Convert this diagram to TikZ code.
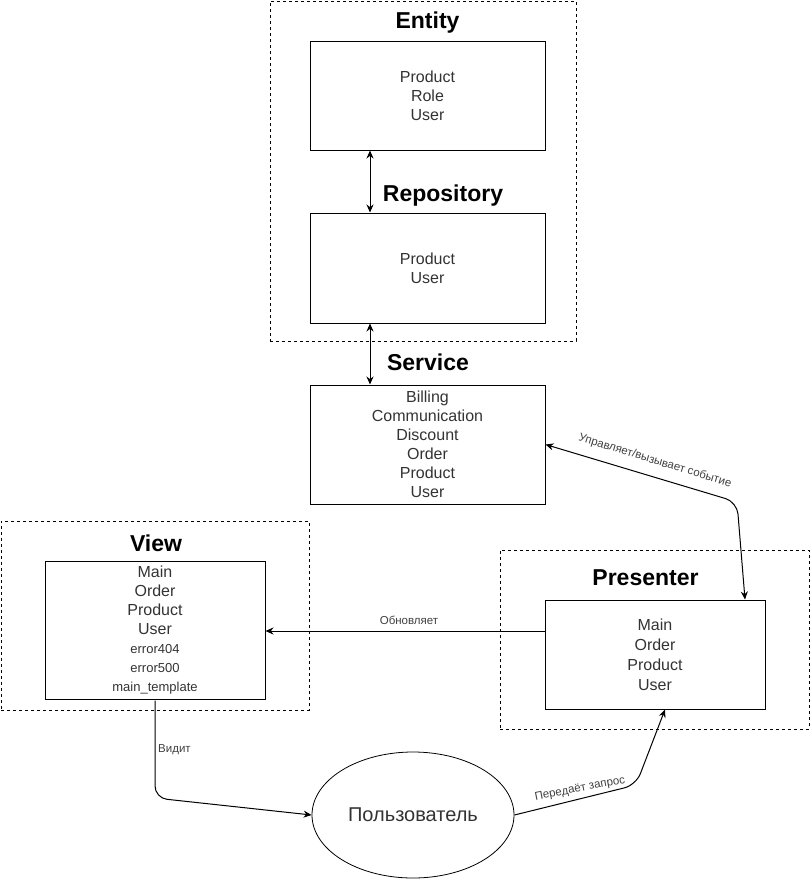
\documentclass[tikz,border=0pt]{standalone}
\usepackage{fontspec}
\setmainfont{Liberation Sans}
\usepackage{tikz}
\usetikzlibrary{arrows.meta,shapes.geometric}

\tikzset{
  layer/.style={draw, line width=1pt, align=center, text=black!80,
    font=\fontsize{16}{19}\selectfont},
  frame/.style={draw, line width=0.8pt, dash pattern=on 3pt off 3pt},
  title/.style={font=\fontsize{23}{26}\selectfont\bfseries},
  conn/.style={line width=1pt, -{Stealth[length=8pt,width=7pt]}, rounded corners=12pt},
  biconn/.style={line width=1pt, {Stealth[length=8pt,width=7pt]}-{Stealth[length=8pt,width=7pt]}},
  lbl/.style={font=\fontsize{11.5}{13}\selectfont, text=black!75, inner sep=1pt},
  small/.style={font=\fontsize{13}{19}\selectfont}
}

\begin{document}
\begin{tikzpicture}[x=1pt,y=-1pt]
\useasboundingbox (0,0) rectangle (811,881);

\node (entfr) [frame, minimum width=306, minimum height=340] at (423,171) {};
\node (viewfr) [frame, minimum width=308, minimum height=189] at (155,615.5) {};
\node (prefr) [frame, minimum width=309, minimum height=179] at (654.5,639.5) {};

\node (enttl) [title] at (427.5,23) {Entity};
\node (reptl) [title] at (443,196) {Repository};
\node (svctl) [title] at (428,362) {Service};
\node (viewtl) [title] at (156,543) {View};
\node (pretl) [title] at (645.5,578) {Presenter};

\node (ent) [layer, minimum width=235, minimum height=109] at (427.5,95.5) {Product\\Role\\User};
\node (rep) [layer, minimum width=235, minimum height=110] at (427.5,268) {Product\\User};
\node (svc) [layer, minimum width=235, minimum height=119] at (427.5,444.5)
  {Billing\\Communication\\Discount\\Order\\Product\\User};
\node (view) [layer, minimum width=220, minimum height=138] at (155,630)
  {Main\\Order\\Product\\User\\\fontsize{13}{19}\selectfont error404\\
   \fontsize{13}{19}\selectfont error500\\\fontsize{13}{19}\selectfont main\_template};
\node (pre) [layer, minimum width=220, minimum height=109, font=\fontsize{16}{20}\selectfont] at (655,654.5)
  {Main\\Order\\Product\\User};
\node (usr) [draw, ellipse, line width=0.8pt, minimum width=202, minimum height=126,
  font=\fontsize{20}{24}\selectfont, text=black!80] at (413,815) {Пользователь};

\coordinate (svcbend) at (737,502);
\coordinate (viewbend) at (155,798);
\coordinate (usrbend) at (636,785);

\draw [biconn] ([xshift=-57.5]ent.south) -- ([xshift=-57.5]rep.north);
\draw [biconn] ([xshift=-57.5]rep.south) -- ([xshift=-57.5]svc.north);
\draw [conn, {Stealth[length=8pt,width=7pt]}-{Stealth[length=8pt,width=7pt]}]
  (svc.east) -- (svcbend) -- ([xshift=90]pre.north);
\draw [conn] (pre.west |- 0,631) -- (view.east |- 0,631);
\draw [conn] ([yshift=-1]view.south) -- (viewbend) -- (usr.west);
\draw [conn] (usr.east) -- (usrbend) -- ([xshift=10]pre.south);

\node (lblsvc) [lbl, rotate=-17] at (655,461) {Управляет/вызывает событие};
\node (lblupd) [lbl] at (409,620) {Обновляет};
\node (lblsee) [lbl, anchor=west] at (157,750) {Видит};
\node (lblreq) [lbl, rotate=11] at (580,789) {Передаёт запрос};
\end{tikzpicture}
\end{document}
